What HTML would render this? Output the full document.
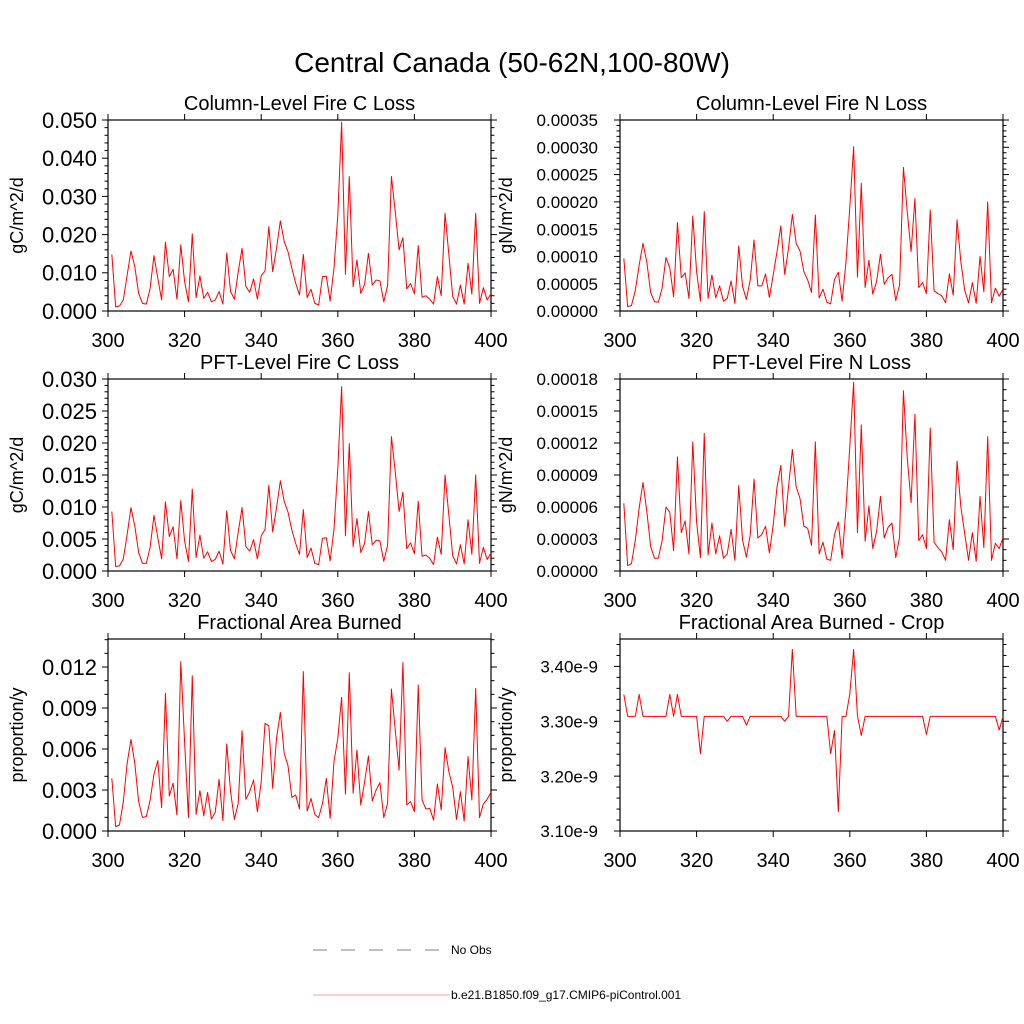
<!DOCTYPE html>
<html><head><meta charset="utf-8"><style>
html,body{margin:0;padding:0;background:#fff;}
svg{display:block;font-family:"Liberation Sans",sans-serif;}
</style></head><body>
<svg id="chart" width="1024" height="1024" viewBox="0 0 1024 1024" xmlns="http://www.w3.org/2000/svg">
<rect x="0" y="0" width="1024" height="1024" fill="#fff"/>
<text x="512" y="72" font-size="28" text-anchor="middle">Central Canada (50-62N,100-80W)</text>
<g id="panels"></g>
<g>
<line x1="313" y1="950" x2="448" y2="950" stroke="#555" stroke-width="0.8" stroke-dasharray="14,14"/>
<text x="451" y="954" font-size="12">No Obs</text>
<line x1="313" y1="995" x2="450" y2="995" stroke="#f08080" stroke-width="0.8"/>
<text x="451" y="999" font-size="12">b.e21.B1850.f09_g17.CMIP6-piControl.001</text>
</g>
</svg>
<script>
const years = [];
for (let y = 301; y <= 400; y++) years.push(y);
const xTicks = [300, 320, 340, 360, 380, 400];

// Column-Level Fire C Loss (units 1e-3 gC/m^2/d)
const colFireC = [14.8,1.1,1.3,2.9,9.4,15.7,11.6,4.6,2.0,1.8,
5.9,14.5,8.6,2.9,18.0,9.0,10.9,3.1,17.3,7.7,
2.4,20.2,3.5,9.2,3.3,4.9,2.4,2.9,5.1,1.8,
15.2,5.1,3.1,10.3,16.4,6.4,4.9,8.4,3.1,9.2,
10.5,22.1,10.3,16.4,23.6,18.2,15.5,11.2,7.3,4.2,
14.8,3.5,5.7,2.0,1.6,9.0,9.1,2.6,11.2,25.0,
49.4,9.6,35.2,6.4,13.4,4.6,7.0,15.1,6.8,8.1,
7.9,2.4,6.6,35.2,26.0,16.0,19.2,5.8,7.2,4.5,
17.1,3.6,4.0,3.1,1.8,9.0,4.0,25.6,14.7,3.8,
1.8,6.8,1.8,12.5,4.4,25.6,2.0,6.1,2.9,4.5];

// Column-Level Fire N Loss (units 1e-5)
const colFireN = [9.65,0.8,1.0,3.8,8.4,12.4,9.0,3.4,1.7,1.6,
4.2,9.8,7.9,2.6,16.2,6.1,7.0,2.3,17.4,7.2,
1.8,18.2,2.3,6.6,2.4,4.6,1.8,2.3,5.5,1.4,
11.9,4.5,2.1,5.7,13.0,4.6,4.6,6.8,2.5,6.6,
10.9,15.6,6.7,11.5,17.7,12.4,11.0,7.2,5.7,3.4,
17.6,2.4,4.0,1.6,1.3,5.8,7.1,1.8,9.0,19.0,
30.1,6.2,23.4,4.3,9.3,3.1,5.4,10.4,4.9,6.1,
6.7,1.9,4.8,26.3,18.2,10.9,20.6,4.3,5.2,3.2,
18.5,3.7,3.2,2.8,1.5,6.8,2.9,16.7,9.0,3.8,
1.5,5.2,1.4,10.0,3.5,20.0,1.5,4.2,2.7,4.0];

// PFT-Level Fire C Loss (units 1e-3)
const pftFireC = [9.3,0.7,0.8,1.9,5.7,9.9,7.0,2.9,1.2,1.2,
3.7,8.7,5.2,1.9,10.8,5.4,6.9,1.9,11.0,4.7,
1.5,12.8,2.1,5.6,2.0,3.0,1.5,1.8,3.1,1.1,
9.4,3.2,1.9,6.1,9.9,3.8,3.1,4.9,1.9,5.5,
6.5,13.4,6.1,9.9,14.1,10.9,9.2,6.4,4.3,2.6,
9.6,2.1,3.6,1.2,1.0,5.1,5.2,1.6,6.5,16.0,
28.8,5.5,19.9,3.8,8.2,2.9,4.3,9.3,4.1,4.8,
4.7,1.5,4.0,21.0,15.5,9.3,12.3,3.5,4.4,2.7,
10.9,2.3,2.5,2.0,1.0,5.3,2.6,15.0,8.7,2.4,
1.1,4.1,1.1,8.0,2.6,15.0,1.2,3.7,1.8,2.8];

// PFT-Level Fire N Loss (units 1e-6)
const pftFireN = [63.5,5,7,29,59,83,56,23,12,12,
28.5,60,55,19,107,36,47,16,121,46,
12.5,129,15,45,16,33,12,16,39,10,
80,29,13,34,86,31,34,42,17,43,
79,99,42,79,114,79,68,42,40,24,
121,16,27,11,10,34,46,12,59,117,
177,36,137,28,61,21,37,70,31,41,
45,12.5,32,169,106,64,147,28.5,34,21,
134,27,22,18,10,48,20,103,60,35,
10,36,9,70,22,126,10,26,21,31];

// Fractional Area Burned (units 1e-4)
const fracBurned = [38.5,3.2,4.4,21.5,49.5,67,49.5,21.5,10,10.5,
22.7,41.5,51.5,17,100.7,25.6,35,11.7,124,65,
9.8,113.6,12.2,29.5,11,28.3,8.8,13.7,37.8,7.6,
63.7,28.8,8.5,20.2,73.4,23.2,28.8,37.3,14.1,36,
78.8,77,31.2,67.8,86.8,56.8,47.8,24.6,26.3,16.1,
116.6,14.6,23.9,12.2,9.8,20.2,38.5,9.3,50.7,67.8,
97.8,27,115.8,27.6,59.3,19,36,54.9,22,30,
35.4,9.8,20.2,103.9,73.9,44.6,123.2,19,21.5,14.1,
106.8,22.7,16.1,16.6,8,34.4,15.4,61,43.4,32,
8.5,28.8,7.3,54.4,22.7,104.4,9.8,19.8,23.2,28.3];

// Fractional Area Burned - Crop (units 1e-9)
const fracBurnedCrop = [3.349,3.309,3.309,3.309,3.349,3.309,3.309,3.309,3.309,3.309,
3.309,3.309,3.349,3.309,3.349,3.309,3.309,3.309,3.309,3.309,
3.241,3.309,3.309,3.309,3.309,3.309,3.309,3.300,3.309,3.309,
3.309,3.309,3.293,3.309,3.309,3.309,3.309,3.309,3.309,3.309,
3.309,3.309,3.300,3.309,3.431,3.309,3.309,3.309,3.309,3.309,
3.309,3.309,3.309,3.309,3.241,3.283,3.135,3.309,3.309,3.350,
3.431,3.310,3.274,3.309,3.309,3.309,3.309,3.309,3.309,3.309,
3.309,3.309,3.309,3.309,3.309,3.309,3.309,3.309,3.309,3.276,
3.309,3.309,3.309,3.309,3.309,3.309,3.309,3.309,3.309,3.309,
3.309,3.309,3.309,3.309,3.309,3.309,3.309,3.309,3.284,3.309];

const NS = "http://www.w3.org/2000/svg";
function mk(tag, attrs, parent) {
  const e = document.createElementNS(NS, tag);
  for (const k in attrs) e.setAttribute(k, attrs[k]);
  parent.appendChild(e);
  return e;
}

const panels = [
  {key:"col-fire-c", title:"Column-Level Fire C Loss", ytitle:"gC/m^2/d", data:colFireC, x0:108, x1:491, y0:120, y1:311, ymin:0, ymax:50, major:10, minor:2, fmt:v=>(v/1000).toFixed(3), fs:22, lx:97, ytx:17},
  {key:"col-fire-n", title:"Column-Level Fire N Loss", ytitle:"gN/m^2/d", data:colFireN, x0:620, x1:1003, y0:120, y1:311, ymin:0, ymax:35, major:5, minor:1, fmt:v=>(v*1e-5).toFixed(5), fs:17, lx:598, ytx:506},
  {key:"pft-fire-c", title:"PFT-Level Fire C Loss", ytitle:"gC/m^2/d", data:pftFireC, x0:108, x1:491, y0:379, y1:571, ymin:0, ymax:30, major:5, minor:1, fmt:v=>(v/1000).toFixed(3), fs:22, lx:97, ytx:17},
  {key:"pft-fire-n", title:"PFT-Level Fire N Loss", ytitle:"gN/m^2/d", data:pftFireN, x0:620, x1:1003, y0:379, y1:571, ymin:0, ymax:180, major:30, minor:10, fmt:v=>(v*1e-6).toFixed(5), fs:17, lx:598, ytx:506},
  {key:"frac-burned", title:"Fractional Area Burned", ytitle:"proportion/y", data:fracBurned, x0:108, x1:491, y0:639, y1:831, ymin:0, ymax:140.5, major:30, minor:10, fmt:v=>(v*1e-4).toFixed(3), fs:22, lx:97, ytx:17},
  {key:"frac-burned-crop", title:"Fractional Area Burned - Crop", ytitle:"proportion/y", data:fracBurnedCrop, x0:620, x1:1003, y0:639, y1:831, ymin:3.10, ymax:3.45, major:0.1, minor:0.02, fmt:v=>v.toFixed(2)+"e-9", fs:17, lx:598, ytx:506}
];

const root = document.getElementById("panels");
panels.forEach(p => {
  const g = mk("g", {}, root);
  
  
  const xs = v => p.x0 + (v - 300) / 100 * (p.x1 - p.x0);
  const ys = v => p.y1 - (v - p.ymin) / (p.ymax - p.ymin) * (p.y1 - p.y0);

  const t = mk("text", {x:(p.x0+p.x1)/2, y:p.y0-10, "font-size":20, "text-anchor":"middle"}, g);
  
  
  t.textContent = p.title;

  const cy = (p.y0+p.y1)/2;
  const yt = mk("text", {x:p.ytx+6, y:cy, "font-size":18, "text-anchor":"middle", transform:`rotate(-90 ${p.ytx+6} ${cy})`}, g);
  
  
  yt.textContent = p.ytitle;

  const nMinor = Math.round((p.ymax - p.ymin) / p.minor + 1e-6);
  for (let i = 0; i <= nMinor; i++) {
    const v = p.ymin + i * p.minor;
    const y = ys(v);
    if (y < p.y0 - 0.5) break;
    const isMajor = Math.abs(((v - p.ymin) / p.major) - Math.round((v - p.ymin) / p.major)) < 1e-6;
    const len = isMajor ? 6 : 3.5;
    mk("line", {x1:p.x0-len, x2:p.x0, y1:y, y2:y, stroke:"#000", "stroke-width":1}, g);
    mk("line", {x1:p.x1, x2:p.x1+len, y1:y, y2:y, stroke:"#000", "stroke-width":1}, g);
    if (isMajor) {
      const lab = mk("text", {x:p.lx, y:y+p.fs*0.36, "font-size":p.fs, "text-anchor":"end"}, g);
      
      
      lab.textContent = p.fmt(v);
    }
  }
  xTicks.forEach(v => {
    const x = xs(v);
    mk("line", {x1:x, x2:x, y1:p.y1, y2:p.y1+6, stroke:"#000", "stroke-width":1}, g);
    mk("line", {x1:x, x2:x, y1:p.y0-6, y2:p.y0, stroke:"#000", "stroke-width":1}, g);
    const lab = mk("text", {x:x, y:p.y1+36, "font-size":20, "text-anchor":"middle"}, g);
    
    
    lab.textContent = v;
  });
  const fr = mk("rect", {x:p.x0, y:p.y0, width:p.x1-p.x0, height:p.y1-p.y0, fill:"none", stroke:"#000", "stroke-width":1.2}, g);
  
  
  const pts = p.data.map((v, i) => xs(years[i]).toFixed(2) + "," + ys(v).toFixed(2)).join(" ");
  const line = mk("polyline", {points:pts, fill:"none", stroke:"#ff0000", "stroke-width":1, "stroke-linejoin":"round"}, g);
  
  
});
</script>
</body></html>
